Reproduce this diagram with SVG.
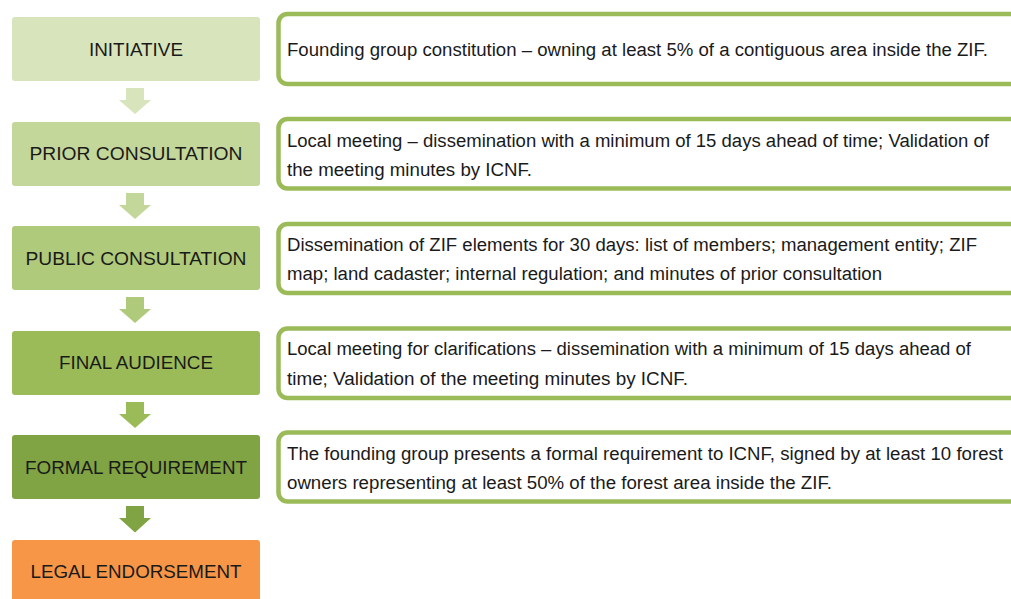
<svg xmlns="http://www.w3.org/2000/svg" width="1011" height="599" viewBox="0 0 1011 599">
  <style>
    .step text { font-family: "Liberation Sans", Arial, sans-serif; font-size: 18.5px; fill: #1a1a1a; text-anchor: middle; }
    .note rect { fill: #ffffff; stroke: #9bbb59; stroke-width: 4.5; }
    .note text { font-family: "Liberation Sans", Arial, sans-serif; font-size: 18px; fill: #1a1a1a; }
  </style>
  <rect width="1011" height="599" fill="#ffffff"/>

  <!-- process steps -->
  <g id="step-initiative" class="step">
    <rect x="12" y="17" width="248" height="64" rx="3" fill="#d8e4bc"/>
    <text x="136" y="56" textLength="94" lengthAdjust="spacingAndGlyphs">INITIATIVE</text>
  </g>
  <g id="step-prior" class="step">
    <rect x="12" y="122" width="248" height="64" rx="3" fill="#c4d79b"/>
    <text x="136" y="160" textLength="213" lengthAdjust="spacingAndGlyphs">PRIOR CONSULTATION</text>
  </g>
  <g id="step-public" class="step">
    <rect x="12" y="226" width="248" height="64" rx="3" fill="#b0ca7c"/>
    <text x="136" y="265" textLength="221" lengthAdjust="spacingAndGlyphs">PUBLIC CONSULTATION</text>
  </g>
  <g id="step-final" class="step">
    <rect x="12" y="331" width="248" height="64" rx="3" fill="#9bbb59"/>
    <text x="136" y="369" textLength="154" lengthAdjust="spacingAndGlyphs">FINAL AUDIENCE</text>
  </g>
  <g id="step-formal" class="step">
    <rect x="12" y="435" width="248" height="64" rx="3" fill="#80a343"/>
    <text x="136" y="474" textLength="222" lengthAdjust="spacingAndGlyphs">FORMAL REQUIREMENT</text>
  </g>
  <g id="step-legal" class="step">
    <rect x="12" y="540" width="248" height="64" rx="3" fill="#f79646"/>
    <text x="136" y="578" textLength="211" lengthAdjust="spacingAndGlyphs">LEGAL ENDORSEMENT</text>
  </g>

  <!-- block arrows between steps -->
  <g id="connectors">
    <path d="M126,88 H144 V100 H151 L135,114 L119,100 H126 Z" fill="#d8e4bc"/>
    <path d="M126,193 H144 V205 H151 L135,219 L119,205 H126 Z" fill="#c4d79b"/>
    <path d="M126,297 H144 V309 H151 L135,323 L119,309 H126 Z" fill="#b0ca7c"/>
    <path d="M126,402 H144 V414 H151 L135,428 L119,414 H126 Z" fill="#9bbb59"/>
    <path d="M126,506 H144 V518 H151 L135,532.5 L119,518 H126 Z" fill="#80a343"/>
  </g>

  <!-- descriptions -->
  <g id="note-initiative" class="note">
    <rect x="278.5" y="14" width="760" height="70" rx="9"/>
    <text x="287" y="56" textLength="701" lengthAdjust="spacingAndGlyphs">Founding group constitution – owning at least 5% of a contiguous area inside the ZIF.</text>
  </g>
  <g id="note-prior" class="note">
    <rect x="278.5" y="119" width="760" height="69.5" rx="9"/>
    <text x="287" y="146.5" textLength="702" lengthAdjust="spacingAndGlyphs">Local meeting – dissemination with a minimum of 15 days ahead of time; Validation of</text>
    <text x="287" y="176" textLength="245" lengthAdjust="spacingAndGlyphs">the meeting minutes by ICNF.</text>
  </g>
  <g id="note-public" class="note">
    <rect x="278.5" y="224" width="760" height="69" rx="9"/>
    <text x="287" y="250.5" textLength="690" lengthAdjust="spacingAndGlyphs">Dissemination of ZIF elements for 30 days: list of members; management entity; ZIF</text>
    <text x="287" y="280" textLength="595" lengthAdjust="spacingAndGlyphs">map; land cadaster; internal regulation; and minutes of prior consultation</text>
  </g>
  <g id="note-final" class="note">
    <rect x="278.5" y="328.5" width="760" height="69.5" rx="9"/>
    <text x="287" y="355" textLength="684" lengthAdjust="spacingAndGlyphs">Local meeting for clarifications – dissemination with a minimum of 15 days ahead of</text>
    <text x="287" y="384.5" textLength="401" lengthAdjust="spacingAndGlyphs">time; Validation of the meeting minutes by ICNF.</text>
  </g>
  <g id="note-formal" class="note">
    <rect x="278.5" y="432.5" width="760" height="69" rx="9"/>
    <text x="287" y="459.5" textLength="716" lengthAdjust="spacingAndGlyphs">The founding group presents a formal requirement to ICNF, signed by at least 10 forest</text>
    <text x="287" y="489" textLength="545" lengthAdjust="spacingAndGlyphs">owners representing at least 50% of the forest area inside the ZIF.</text>
  </g>
</svg>
